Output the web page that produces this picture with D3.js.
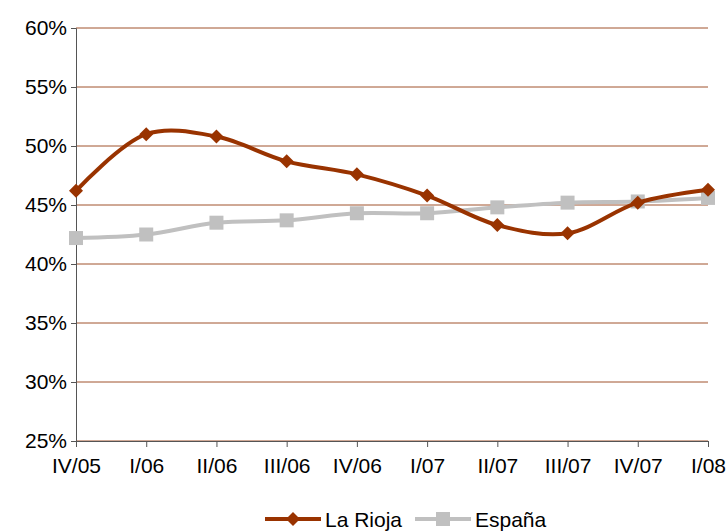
<!DOCTYPE html>
<html><head><meta charset="utf-8">
<script src="https://cdn.jsdelivr.net/npm/d3@7"></script>
<style>body{margin:0;background:#fff}text{font-family:"Liberation Sans Narrow",Arial,"Liberation Sans",sans-serif}</style>
</head><body>
<svg id="chart" width="728" height="532"></svg>
<script>
const categories = ["IV/05","I/06","II/06","III/06","IV/06","I/07","II/07","III/07","IV/07","I/08"];
const rioja = [46.2, 51.0, 50.8, 48.7, 47.6, 45.8, 43.3, 42.6, 45.2, 46.3];
const espana = [42.2, 42.5, 43.5, 43.7, 44.3, 44.3, 44.8, 45.2, 45.3, 45.6];
const yTicks = [25,30,35,40,45,50,55,60];

const svg = d3.select("#chart");
const x = d3.scalePoint().domain(categories).range([76, 708]);
const y = d3.scaleLinear().domain([25, 60]).range([441, 28]);

// gridlines
svg.append("g").selectAll("line").data(yTicks).join("line")
  .attr("x1", 76).attr("x2", 708)
  .attr("y1", d => y(d)).attr("y2", d => y(d))
  .attr("stroke", "#a0522d").attr("stroke-width", 1);

// y axis
const yAxis = svg.append("g").attr("transform", "translate(76,0)")
  .call(d3.axisLeft(y).tickValues(yTicks).tickSize(5).tickFormat(d => d + "%"));
yAxis.select(".domain").attr("stroke", "#555");
yAxis.selectAll(".tick line").attr("stroke", "#555");
yAxis.selectAll("text").attr("font-size", 21).attr("fill", "#000").attr("dx", "-1");

// x axis
const xAxis = svg.append("g").attr("transform", "translate(0,441)")
  .call(d3.axisBottom(x).tickSize(6).tickSizeOuter(0));
xAxis.select(".domain").attr("stroke", "#555");
xAxis.selectAll(".tick line").attr("stroke", "#555");
xAxis.selectAll("text").attr("font-size", 21).attr("fill", "#000").attr("dy", "1.1em");

const line = d3.line().x((d, i) => x(categories[i])).y(d => y(d)).curve(d3.curveCatmullRom.alpha(0.5));

const series = [
  {name: "La Rioja", data: rioja, color: "#993300", marker: "diamond"},
  {name: "España", data: espana, color: "#c0c0c0", marker: "square"}
];
const diamond = "M0,-7L7,0L0,7L-7,0Z";
const square = "M-7,-7H7V7H-7Z";
const symbolOf = m => m === "diamond" ? diamond : square;

[series[1], series[0]].forEach(s => {
  svg.append("path").datum(s.data).attr("d", line)
    .attr("fill", "none").attr("stroke", s.color).attr("stroke-width", 4);
  svg.append("g").selectAll("path").data(s.data).join("path")
    .attr("d", symbolOf(s.marker))
    .attr("transform", (d, i) => `translate(${x(categories[i])},${y(d)})`)
    .attr("fill", s.color);
});

// legend
const legend = svg.append("g").attr("transform", "translate(265,519)");
let lx = 0;
series.forEach(s => {
  const g = legend.append("g").attr("transform", `translate(${lx},0)`);
  g.append("line").attr("x1", 0).attr("x2", 56).attr("stroke", s.color).attr("stroke-width", 4);
  g.append("path").attr("d", symbolOf(s.marker)).attr("transform", "translate(28,0)").attr("fill", s.color);
  g.append("text").attr("x", 60).attr("y", 8).attr("font-size", 21).text(s.name);
  lx += 150;
});
</script>
</body></html>
